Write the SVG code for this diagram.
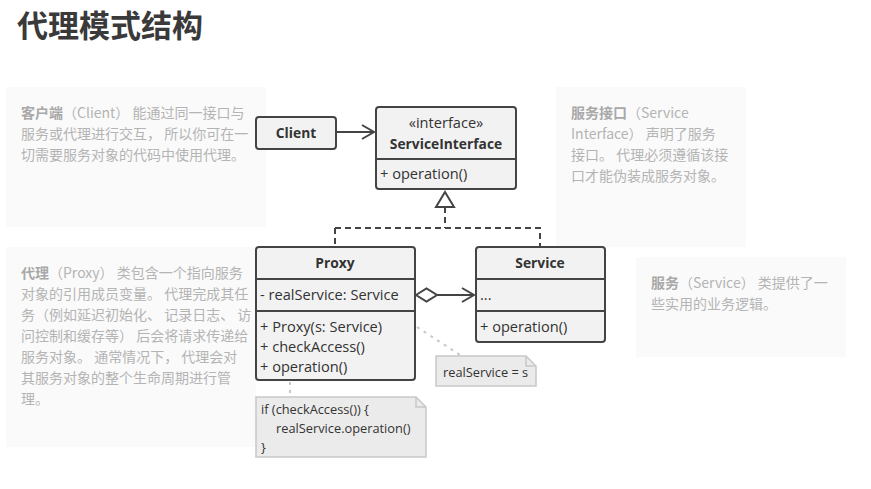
<svg xmlns="http://www.w3.org/2000/svg" width="871" height="489" viewBox="0 0 871 489">
<defs>
<style>
.bg{fill:#fafafa}
.nt{font-family:"Noto Sans CJK SC","Noto Sans",sans-serif;font-size:14px;fill:#b4b4b4}
.nt .b{font-weight:bold;fill:#a8a8a8}
.box{fill:#f2f2f2;stroke:#444;stroke-width:2}
.div{stroke:#444;stroke-width:2}
.u{font-family:"Open Sans","Noto Sans",sans-serif;font-size:14.6px;fill:#333}
.ub{font-family:"Open Sans","Noto Sans",sans-serif;font-size:13.8px;font-weight:bold;fill:#333}
.note{fill:#ebebeb;stroke:#c8c8c8;stroke-width:1.5}
.nu{font-family:"Open Sans","Noto Sans",sans-serif;font-size:12.8px;fill:#333}
.ln{fill:none;stroke:#444;stroke-width:2}
.dash{fill:none;stroke:#444;stroke-width:2;stroke-dasharray:6 4}
.dot{fill:none;stroke:#c8c8c8;stroke-width:2;stroke-dasharray:3 5}
</style>
</defs>
<rect width="871" height="489" fill="#fff"/>
<text x="17" y="37" font-family="Noto Sans CJK SC,sans-serif" font-size="31" font-weight="bold" fill="#3a3a3a">代理模式结构</text>

<g id="notes">
<g id="note-client">
<rect class="bg" x="6" y="87" width="260" height="140"/>
<text class="nt"><tspan x="21" y="118"><tspan class="b">客户端</tspan>（Client） 能通过同一接口与</tspan><tspan x="21" y="139">服务或代理进行交互， 所以你可在一</tspan><tspan x="21" y="160">切需要服务对象的代码中使用代理。</tspan></text>
</g>
<g id="note-si">
<rect class="bg" x="556" y="87" width="190" height="160"/>
<text class="nt"><tspan x="571" y="118"><tspan class="b">服务接口</tspan>（Service</tspan><tspan x="571" y="139">Interface） 声明了服务</tspan><tspan x="571" y="160">接口。 代理必须遵循该接</tspan><tspan x="571" y="181">口才能伪装成服务对象。</tspan></text>
</g>
<g id="note-service">
<rect class="bg" x="636" y="257" width="210" height="100"/>
<text class="nt"><tspan x="651" y="288"><tspan class="b">服务</tspan>（Service） 类提供了一</tspan><tspan x="651" y="309">些实用的业务逻辑。</tspan></text>
</g>
<g id="note-proxy">
<rect class="bg" x="6" y="247" width="250" height="200"/>
<text class="nt"><tspan x="21" y="278"><tspan class="b">代理</tspan>（Proxy） 类包含一个指向服务</tspan><tspan x="21" y="299">对象的引用成员变量。 代理完成其任</tspan><tspan x="21" y="320">务（例如延迟初始化、 记录日志、 访</tspan><tspan x="21" y="341">问控制和缓存等） 后会将请求传递给</tspan><tspan x="21" y="362">服务对象。 通常情况下， 代理会对</tspan><tspan x="21" y="383">其服务对象的整个生命周期进行管</tspan><tspan x="21" y="404">理。</tspan></text>
</g>
</g>

<g id="connectors">
<path class="ln" d="M336 132 H374"/>
<path class="ln" d="M362 125 L374 132 L362 139"/>
<path class="dash" d="M445 207 V228 M335 228 H540 V247 M335 228 V247"/>
<path d="M445 192 L454 207 L436 207 Z" fill="#fff" stroke="#444" stroke-width="2"/>
<path class="ln" d="M437 295 H474"/>
<path class="ln" d="M462 288 L474 295 L462 302"/>
<path d="M416 295 L426.5 288.5 L437 295 L426.5 301.5 Z" fill="#fff" stroke="#444" stroke-width="2"/>
<path class="dot" d="M417 327 L460 355"/>
<path class="dot" d="M290 382 V396"/>
</g>

<g id="client">
<rect class="box" x="256" y="117" width="80" height="32" rx="3"/>
<text class="ub" x="296" y="138" text-anchor="middle">Client</text>
</g>

<g id="service-interface">
<rect class="box" x="376" y="107" width="140" height="82" rx="3"/>
<line class="div" x1="376" y1="159" x2="516" y2="159"/>
<text class="u" x="446" y="128" text-anchor="middle">«interface»</text>
<text class="ub" x="446" y="149" text-anchor="middle">ServiceInterface</text>
<text class="u" x="380" y="179">+ operation()</text>
</g>

<g id="proxy">
<rect class="box" x="256" y="247" width="159" height="133" rx="3"/>
<line class="div" x1="256" y1="279" x2="415" y2="279"/>
<line class="div" x1="256" y1="311" x2="415" y2="311"/>
<text class="ub" x="335" y="268" text-anchor="middle">Proxy</text>
<text class="u" x="260" y="300">- realService: Service</text>
<text class="u" x="260" y="332">+ Proxy(s: Service)</text>
<text class="u" x="260" y="352">+ checkAccess()</text>
<text class="u" x="260" y="372">+ operation()</text>
</g>

<g id="service">
<rect class="box" x="476" y="247" width="129" height="95" rx="3"/>
<line class="div" x1="476" y1="279" x2="605" y2="279"/>
<line class="div" x1="476" y1="311" x2="605" y2="311"/>
<text class="ub" x="540" y="268" text-anchor="middle">Service</text>
<text class="u" x="480" y="300">...</text>
<text class="u" x="480" y="332">+ operation()</text>
</g>

<g id="note-realservice">
<path class="note" d="M436 356 H526 L536 366 V386 H436 Z"/>
<path d="M526 356 V366 H536" fill="none" stroke="#c8c8c8" stroke-width="1.5"/>
<text class="nu" x="443" y="377">realService = s</text>
</g>

<g id="note-code">
<path class="note" d="M256 397 H416 L426 407 V457 H256 Z"/>
<path d="M416 397 V407 H426" fill="none" stroke="#c8c8c8" stroke-width="1.5"/>
<text class="nu"><tspan x="261" y="414">if (checkAccess()) {</tspan><tspan x="276" y="433">realService.operation()</tspan><tspan x="261" y="452">}</tspan></text>
</g>
</svg>
